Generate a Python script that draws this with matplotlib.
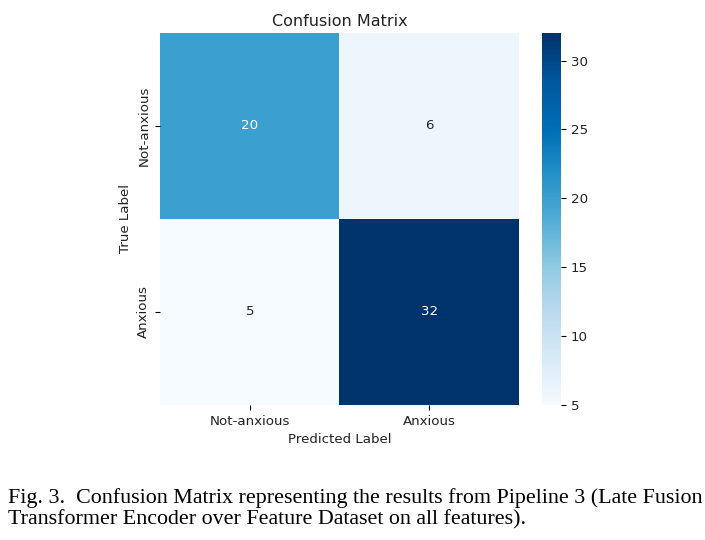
import numpy as np
import matplotlib.pyplot as plt
import matplotlib.colors as mcolors
import seaborn as sns

labels = ['Not-anxious', 'Anxious']
cm = np.array([[20, 6],
               [5, 32]])
caption = ('Fig. 3.  Confusion Matrix representing the results from Pipeline 3 (Late Fusion\n'
           'Transformer Encoder over Feature Dataset on all features).')

# Blues, a bit more saturated like the screenshot
base = plt.get_cmap('Blues')(np.linspace(0, 1, 256))[:, :3]
hsv = mcolors.rgb_to_hsv(base)
hsv[:, 1] = np.clip(hsv[:, 1] * 1.25, 0, 1)
hsv[:, 0] = hsv[:, 0] - 0.01
cmap = mcolors.ListedColormap(mcolors.hsv_to_rgb(hsv))

fig = plt.figure(figsize=(7.05, 5.4), dpi=100)
ax = fig.add_axes([0.227, 0.25, 0.509, 0.689])
cax = fig.add_axes([0.769, 0.25, 0.027, 0.689])

sns.heatmap(cm, annot=True, fmt='d', cmap=cmap, ax=ax, cbar_ax=cax,
            xticklabels=labels, yticklabels=labels, annot_kws={'size': 9.6})
ax.set_title('Confusion Matrix', fontsize=11.5, pad=5, color='#222222')
ax.set_xlabel('Predicted Label', fontsize=9.6, color='#222222')
ax.set_ylabel('True Label', fontsize=9.6, color='#222222')
ax.tick_params(labelsize=9.6, labelcolor='#222222')
cax.tick_params(labelsize=9.6, labelcolor='#222222')

fig.text(0.011, 0.02, caption, fontsize=15.8, family='Liberation Serif',
         ha='left', va='bottom', linespacing=1.1)

plt.savefig('out.png', dpi=100)
